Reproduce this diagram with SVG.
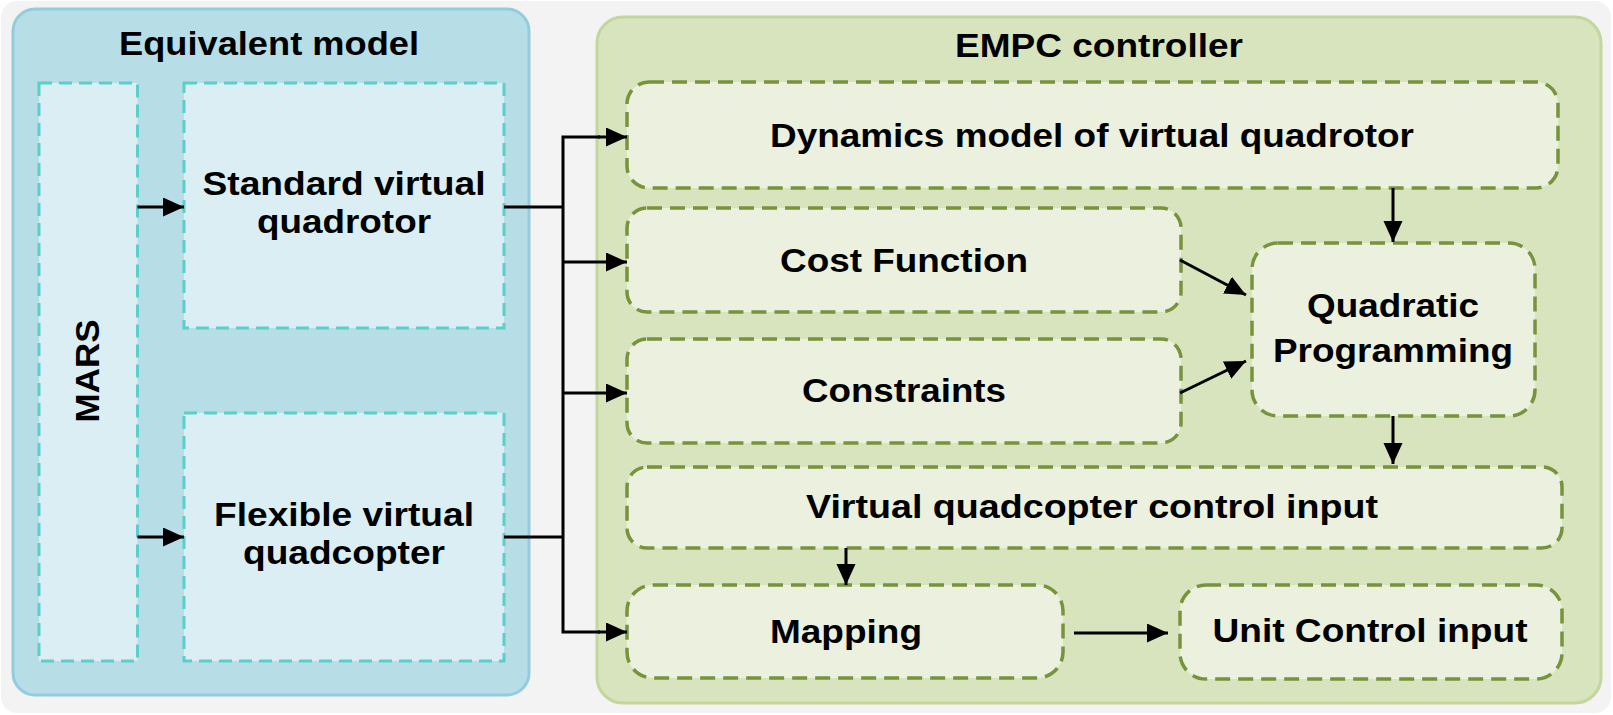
<svg xmlns="http://www.w3.org/2000/svg" width="1613" height="715" viewBox="0 0 1613 715">
<defs>
<style>
text{font-family:"Liberation Sans",Arial,sans-serif;font-weight:bold;font-size:34px;fill:#000;text-anchor:middle}
.teal{fill:#daeef3;stroke:#5ccfcb;stroke-width:3;stroke-dasharray:13 7}
.grn{fill:#ebf1de;stroke:#77933c;stroke-width:3.5;stroke-dasharray:15 8}
.conn{fill:none;stroke:#000;stroke-width:3}
.arr{marker-end:url(#ah)}
</style>
<marker id="ah" markerUnits="userSpaceOnUse" markerWidth="22" markerHeight="20" refX="21" refY="9.5" orient="auto">
<path d="M0,0 L21,9.5 L0,19 z" fill="#000"/>
</marker>
</defs>
<rect x="1" y="1" width="1610" height="712" rx="16" fill="#f3f3f3"/>
<g id="equivalent-model">
<rect x="13" y="9" width="516" height="686" rx="22" fill="#b7dde7" stroke="#93cddd" stroke-width="3"/>
<text x="269" y="55" textLength="300" lengthAdjust="spacingAndGlyphs">Equivalent model</text>
</g>
<g id="empc-controller">
<rect x="597" y="17" width="1004" height="686" rx="26" fill="#d7e4bd" stroke="#c3d69b" stroke-width="3"/>
<text x="1099" y="57" textLength="288" lengthAdjust="spacingAndGlyphs">EMPC controller</text>
</g>
<g id="mars">
<rect class="teal" x="39" y="83" width="98.5" height="578"/>
<text transform="translate(99,371) rotate(-90)" textLength="103" lengthAdjust="spacingAndGlyphs">MARS</text>
</g>
<g id="standard">
<rect class="teal" x="184" y="83" width="320" height="245"/>
<text x="344" y="195" textLength="283" lengthAdjust="spacingAndGlyphs">Standard virtual</text>
<text x="344" y="233" textLength="174" lengthAdjust="spacingAndGlyphs">quadrotor</text>
</g>
<g id="flexible">
<rect class="teal" x="184" y="413" width="320" height="248"/>
<text x="344" y="526" textLength="260" lengthAdjust="spacingAndGlyphs">Flexible virtual</text>
<text x="344" y="564" textLength="202" lengthAdjust="spacingAndGlyphs">quadcopter</text>
</g>
<g id="dynamics">
<rect class="grn" x="627" y="82" width="931" height="106" rx="22"/>
<text x="1092" y="147" textLength="644" lengthAdjust="spacingAndGlyphs">Dynamics model of virtual quadrotor</text>
</g>
<g id="cost">
<rect class="grn" x="627" y="208" width="554" height="104" rx="20"/>
<text x="904" y="272" textLength="248" lengthAdjust="spacingAndGlyphs">Cost Function</text>
</g>
<g id="constraints">
<rect class="grn" x="627" y="339" width="554" height="104" rx="20"/>
<text x="904" y="402" textLength="204" lengthAdjust="spacingAndGlyphs">Constraints</text>
</g>
<g id="qp">
<rect class="grn" x="1252" y="243" width="283" height="173" rx="26"/>
<text x="1393" y="317" textLength="172" lengthAdjust="spacingAndGlyphs">Quadratic</text>
<text x="1393" y="362" textLength="240" lengthAdjust="spacingAndGlyphs">Programming</text>
</g>
<g id="vqci">
<rect class="grn" x="627" y="467" width="935" height="81" rx="20"/>
<text x="1092" y="518" textLength="572" lengthAdjust="spacingAndGlyphs">Virtual quadcopter control input</text>
</g>
<g id="mapping">
<rect class="grn" x="627" y="585" width="436" height="93" rx="26"/>
<text x="846" y="643" textLength="152" lengthAdjust="spacingAndGlyphs">Mapping</text>
</g>
<g id="unit">
<rect class="grn" x="1180" y="585" width="382" height="94" rx="26"/>
<text x="1370" y="642" textLength="315" lengthAdjust="spacingAndGlyphs">Unit Control input</text>
</g>
<g id="connectors">
<line class="conn arr" x1="137.5" y1="207" x2="184" y2="207"/>
<line class="conn arr" x1="137.5" y1="537" x2="184" y2="537"/>
<polyline class="conn" points="504,207 563,207"/>
<polyline class="conn" points="504,537 563,537"/>
<polyline class="conn" points="600,137 563,137 563,632 600,632"/>
<line class="conn arr" x1="598" y1="137" x2="627" y2="137"/>
<line class="conn arr" x1="563" y1="262" x2="627" y2="262"/>
<line class="conn arr" x1="563" y1="393" x2="627" y2="393"/>
<line class="conn arr" x1="598" y1="632" x2="627" y2="632"/>
<line class="conn arr" x1="1393" y1="188" x2="1393" y2="242"/>
<line class="conn arr" x1="1180" y1="260" x2="1246" y2="295"/>
<line class="conn arr" x1="1180" y1="393" x2="1246" y2="361"/>
<line class="conn arr" x1="1393" y1="416" x2="1393" y2="464"/>
<line class="conn arr" x1="846" y1="548" x2="846" y2="585"/>
<line class="conn arr" x1="1074" y1="633" x2="1168" y2="633"/>
</g>
</svg>
